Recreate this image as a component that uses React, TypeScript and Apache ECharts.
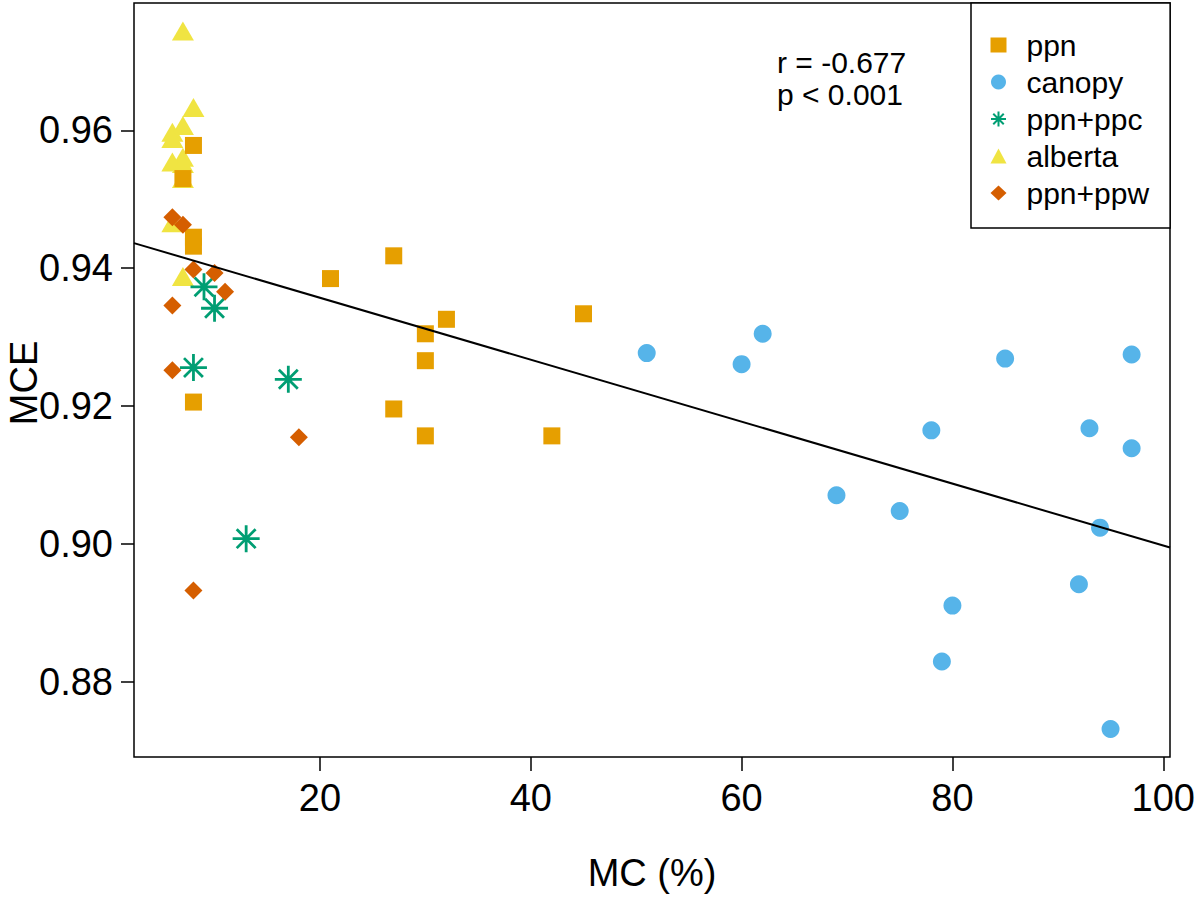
import React, { useEffect, useRef } from "react";
import * as echarts from "echarts";

// ---- data ----
const ppnX = [8, 7, 8, 8, 8, 21, 27, 27, 30, 30, 30, 32, 42, 45];
const ppnY = [0.9578, 0.953, 0.9445, 0.9432, 0.9206, 0.9385, 0.9418, 0.9196, 0.9305, 0.9266, 0.9157, 0.9326, 0.9157, 0.9334];

const canopyX = [51, 60, 62, 69, 75, 78, 79, 80, 85, 92, 93, 94, 95, 97, 97];
const canopyY = [0.9277, 0.9261, 0.9305, 0.9071, 0.9048, 0.9165, 0.883, 0.8911, 0.9269, 0.8942, 0.9168, 0.9024, 0.8732, 0.9275, 0.9139];

const ppcX = [9, 10, 8, 17, 13];
const ppcY = [0.9373, 0.9342, 0.9256, 0.9239, 0.9008];

const albertaX = [7, 8, 7, 6, 6, 7, 6, 7, 7, 6, 7];
const albertaY = [0.9744, 0.9633, 0.9607, 0.9597, 0.9588, 0.9561, 0.9554, 0.9552, 0.953, 0.9466, 0.9388];

const ppwX = [6, 7, 8, 10, 11, 6, 6, 18, 8];
const ppwY = [0.9474, 0.9463, 0.9398, 0.9393, 0.9366, 0.9346, 0.9252, 0.9155, 0.8933];

const fitIntercept = 0.9447;
const fitSlope = -0.000449;

const xTicks = [20, 40, 60, 80, 100];
const yTicks = [0.88, 0.9, 0.92, 0.94, 0.96];

const legendNames = ["ppn", "canopy", "ppn+ppc", "alberta", "ppn+ppw"];
const annotation = "r = -0.677\np < 0.001";
const xTitle = "MC (%)";
const yTitle = "MCE";

const FONT = "'Liberation Sans', Arial, Helvetica, sans-serif";
const ASTERISK = "path://M10 0 L10 20 M0 10 L20 10 M3 3 L17 17 M3 17 L17 3";

const zip = (xs: number[], ys: number[]) => xs.map((x, i) => [x, ys[i]]);

export default function App() {
  const ref = useRef<HTMLDivElement>(null);
  useEffect(() => {
    if (!ref.current) return;
    const chart = echarts.init(ref.current, null, { renderer: "svg" });

    const allX = [...ppnX, ...canopyX, ...ppcX, ...albertaX, ...ppwX];
    const allY = [...ppnY, ...canopyY, ...ppcY, ...albertaY, ...ppwY];
    const xLo = Math.min(...allX), xHi = Math.max(...allX);
    const yLo = Math.min(...allY), yHi = Math.max(...allY);
    const xMin = xLo - 0.04 * (xHi - xLo), xMax = xHi + 0.04 * (xHi - xLo);
    const yMin = yLo - 0.04 * (yHi - yLo), yMax = yHi + 0.04 * (yHi - yLo);

    const fitLine = [xMin, xMax].map((x) => [x, fitIntercept + fitSlope * x]);

    chart.setOption({
      animation: false,
      backgroundColor: "#fff",
      textStyle: { fontFamily: FONT },
      grid: {
        left: 134, top: 3, right: 30, bottom: 144,
        containLabel: false, outerBoundsMode: "none",
        show: true, borderColor: "#000", borderWidth: 1.5, backgroundColor: "transparent",
      },
      xAxis: {
        type: "value", min: xMin, max: xMax,
        axisLine: { show: false },
        splitLine: { show: false },
        axisTick: { show: true, inside: false, length: 14, lineStyle: { color: "#000", width: 1.5 }, customValues: xTicks },
        axisLabel: { customValues: xTicks, color: "#000", fontSize: 38, fontFamily: FONT, margin: 22 },
        name: xTitle, nameLocation: "middle", nameGap: 97,
        nameTextStyle: { color: "#000", fontSize: 38, fontFamily: FONT },
      },
      yAxis: {
        type: "value", min: yMin, max: yMax,
        axisLine: { show: false },
        splitLine: { show: false },
        axisTick: { show: true, inside: false, length: 13, lineStyle: { color: "#000", width: 1.5 }, customValues: yTicks },
        axisLabel: {
          customValues: yTicks, color: "#000", fontSize: 38, fontFamily: FONT, margin: 21,
          formatter: (v: number) => v.toFixed(2),
        },
      },
      legend: {
        orient: "vertical", left: 971, top: 3,
        data: legendNames,
        itemWidth: 16, itemHeight: 15, itemGap: 7,
        padding: [27, 21, 20, 19],
        backgroundColor: "#fff", borderColor: "#000", borderWidth: 1.5, borderRadius: 0,
        textStyle: { fontSize: 30, color: "#000", fontFamily: FONT, lineHeight: 30, padding: [0, 0, 0, 15] },
        selectedMode: false,
      },
      graphic: [
        {
          type: "text", left: 777, top: 46, z: 10,
          style: { text: annotation, fontSize: 30, lineHeight: 32, fill: "#000", fontFamily: FONT },
        },
        {
          type: "text", x: 24, y: 383, rotation: Math.PI / 2, z: 10,
          style: {
            text: yTitle, fontSize: 38, fill: "#000", fontFamily: FONT,
            align: "center", verticalAlign: "middle",
          },
        },
      ],
      series: [
        {
          name: "alberta", type: "scatter", symbol: "triangle", symbolSize: [22, 19],
          itemStyle: { color: "#F0E442", opacity: 1 }, data: zip(albertaX, albertaY),
        },
        {
          name: "ppn", type: "scatter", symbol: "rect", symbolSize: 17,
          itemStyle: { color: "#E69F00", opacity: 1 }, data: zip(ppnX, ppnY),
        },
        {
          name: "canopy", type: "scatter", symbol: "circle", symbolSize: 18,
          itemStyle: { color: "#56B4E9", opacity: 1 }, data: zip(canopyX, canopyY),
        },
        {
          name: "ppn+ppc", type: "scatter", symbol: ASTERISK, symbolSize: 27,
          itemStyle: { color: "rgba(0,0,0,0)", borderColor: "#009E73", borderWidth: 2.8, opacity: 1 },
          data: zip(ppcX, ppcY),
        },
        {
          name: "ppn+ppw", type: "scatter", symbol: "diamond", symbolSize: 18,
          itemStyle: { color: "#D55E00", opacity: 1 }, data: zip(ppwX, ppwY),
        },
        {
          name: "fit", type: "line", data: fitLine, symbol: "none",
          lineStyle: { color: "#000", width: 2 }, z: 5, silent: true,
        },
      ],
    });
    return () => chart.dispose();
  }, []);
  return (
    <div
      ref={ref}
      style={{ position: "absolute", left: 0, top: 0, width: 1200, height: 901 }}
    />
  );
}
